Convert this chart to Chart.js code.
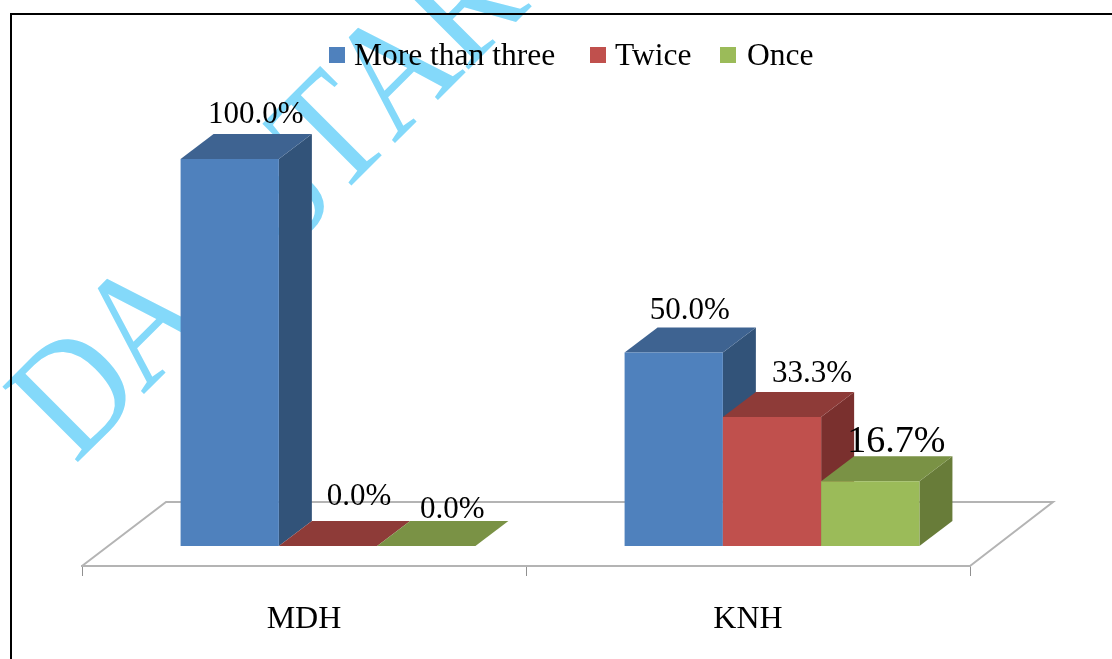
<!DOCTYPE html>
<html>
<head>
<meta charset="utf-8">
<title>Hospital frequency chart</title>
<script src="https://cdn.jsdelivr.net/npm/chart.js@4"></script>
<style>
  html, body { margin: 0; padding: 0; background: #fff; overflow: hidden; }
  #wrap { position: relative; width: 1112px; height: 659px; }
</style>
</head>
<body>
<div id="wrap"><canvas id="mycanvas"></canvas></div>
<script>
var sites = ['MDH', 'KNH'];
var moreThanThree = [100.0, 50.0];
var twice = [0.0, 33.3];
var once = [0.0, 16.7];
var seriesNames = ['More than three', 'Twice', 'Once'];

var frontColors = ['#4F81BD', '#C0504D', '#9BBB59'];
var topColors = ['#3E6391', '#8E3B38', '#7A9245'];
var sideColors = ['#325379', '#7A302E', '#687C39'];

// label nudges relative to the bar's top centre [dx, dy], by series then site
var labelNudge = [
  [[26, -36], [16, -33]],
  [[31, -41], [40, -35]],
  [[26, -28], [26, -29]]
];
var labelSize = [[31, 31], [31, 31], [31, 38]];

// legend swatch x, text x
var legendX = [[329, 354], [590, 615], [720, 747]];

// stamp letters, each with its own origin
var stampLetters = ['D', 'A', 'S', 'T', 'A', 'R'];
var stampX = [75, 143, 285, 336, 394, 465];
var stampY = [465, 395, 255, 201, 144, 73];

var serif = '"Liberation Serif", "Times New Roman", serif';
var depthX = 33, depthY = 25;   // how far the bar boxes recede
var barShift = 24;              // bars stand further back on the floor than the axis

function face(ctx, color, pts) {
  ctx.fillStyle = color;
  ctx.beginPath();
  ctx.moveTo(pts[0][0], pts[0][1]);
  for (var i = 1; i < pts.length; i++) ctx.lineTo(pts[i][0], pts[i][1]);
  ctx.closePath();
  ctx.fill();
}

// diagonal stamp and page frame behind everything
var backdrop = {
  id: 'backdrop',
  beforeDraw: function(chart) {
    var ctx = chart.ctx;
    ctx.save();
    ctx.font = '163px ' + serif;
    ctx.fillStyle = '#84D9FA';
    stampLetters.forEach(function(letter, i) {
      ctx.save();
      ctx.translate(stampX[i], stampY[i]);
      ctx.rotate(-Math.PI / 4);
      ctx.scale(0.87, 1);
      ctx.fillText(letter, 0, 0);
      ctx.restore();
    });
    ctx.strokeStyle = '#000';
    ctx.lineWidth = 2;
    ctx.beginPath();
    ctx.moveTo(11, 659);
    ctx.lineTo(11, 14);
    ctx.lineTo(1112, 14);
    ctx.stroke();
    ctx.restore();
  }
};

// floor, boxes and value labels; returning false skips the flat default bars
var boxes = {
  id: 'boxes',
  beforeDatasetsDraw: function(chart) {
    var ctx = chart.ctx;
    var area = chart.chartArea;
    ctx.save();
    ctx.strokeStyle = '#B4B4B4';
    ctx.lineWidth = 2;
    ctx.beginPath();
    ctx.moveTo(area.left, area.bottom);
    ctx.lineTo(area.left + 84, area.bottom - 64);
    ctx.lineTo(area.right + 83, area.bottom - 64);
    ctx.lineTo(area.right, area.bottom);
    ctx.stroke();

    ctx.translate(barShift, 0);
    chart.data.datasets.forEach(function(ds, d) {
      chart.getDatasetMeta(d).data.forEach(function(bar) {
        var p = bar.getProps(['x', 'y', 'base', 'width'], true);
        var l = p.x - p.width / 2, r = p.x + p.width / 2;
        face(ctx, sideColors[d], [[r, p.y], [r + depthX, p.y - depthY], [r + depthX, p.base - depthY], [r, p.base]]);
        face(ctx, topColors[d], [[l, p.y], [l + depthX, p.y - depthY], [r + depthX, p.y - depthY], [r, p.y]]);
        bar.draw(ctx);
      });
    });

    ctx.fillStyle = '#000';
    ctx.textAlign = 'center';
    ctx.textBaseline = 'alphabetic';
    chart.data.datasets.forEach(function(ds, d) {
      chart.getDatasetMeta(d).data.forEach(function(bar, i) {
        ctx.font = labelSize[d][i] + 'px ' + serif;
        ctx.fillText(ds.data[i].toFixed(1) + '%', bar.x + labelNudge[d][i][0], bar.y + labelNudge[d][i][1]);
      });
    });
    ctx.restore();
    return false;
  }
};

// legend row with a tighter swatch gap than the built-in one
var legendRow = {
  id: 'legendRow',
  afterDraw: function(chart) {
    var ctx = chart.ctx;
    ctx.save();
    ctx.font = '31.5px ' + serif;
    ctx.textBaseline = 'alphabetic';
    chart.data.datasets.forEach(function(ds, i) {
      ctx.fillStyle = ds.backgroundColor;
      ctx.fillRect(legendX[i][0], 47, 16, 16);
      ctx.fillStyle = '#000';
      ctx.fillText(ds.label, legendX[i][1], 65);
    });
    ctx.restore();
  }
};

var ctx = document.getElementById('mycanvas');
new Chart(ctx, {
  type: 'bar',
  data: {
    labels: sites,
    datasets: [
      { label: seriesNames[0], data: moreThanThree, backgroundColor: frontColors[0] },
      { label: seriesNames[1], data: twice, backgroundColor: frontColors[1] },
      { label: seriesNames[2], data: once, backgroundColor: frontColors[2] }
    ]
  },
  options: {
    responsive: true,
    maintainAspectRatio: false,
    animation: false,
    categoryPercentage: 0.664,
    barPercentage: 1,
    layout: { padding: { left: 82, right: 142, top: 159, bottom: 0 } },
    plugins: { legend: { display: false }, tooltip: { enabled: false } },
    scales: {
      x: {
        afterFit: function(scale) { scale.height = 93; },
        border: { color: '#B4B4B4', width: 2 },
        grid: { drawOnChartArea: false, color: '#909090', tickLength: 10 },
        ticks: { color: '#000', padding: 24, font: { family: serif, size: 32 }, maxRotation: 0 }
      },
      y: { display: false, min: -5.17, max: 100 }
    }
  },
  plugins: [backdrop, boxes, legendRow]
});
</script>
</body>
</html>
